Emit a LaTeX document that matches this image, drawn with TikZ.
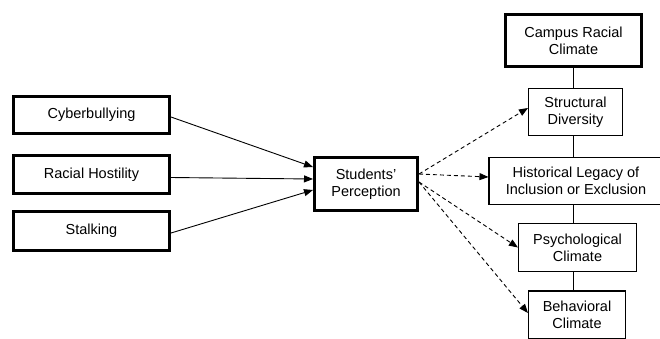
\documentclass[tikz,border=0pt]{standalone}
\usepackage{fontspec}
\setmainfont{Liberation Sans}
\usetikzlibrary{arrows.meta}
\begin{document}
\begin{tikzpicture}[x=1pt,y=-1pt,
  thickbox/.style={draw, line width=3pt, align=center, inner sep=0pt},
  thinbox/.style={draw, line width=1.1pt, align=center, inner sep=0pt},
  link/.style={line width=0.9pt},
  arr/.style={-{Triangle[length=9pt,width=7pt]}, line width=0.9pt},
  darr/.style={arr, dash pattern=on 4pt off 3pt},
  font=\fontsize{14.5}{16.7}\selectfont]
\useasboundingbox (0,0) rectangle (660,338);
\clip (0,0) rectangle (660,338);

\node[thickbox, minimum width=156pt, minimum height=37pt] (cyber) at (91.5,115) {Cyberbullying};
\node[thickbox, minimum width=156pt, minimum height=38pt] (racial) at (91.5,174.5) {Racial Hostility};
\node[thickbox, minimum width=156pt, minimum height=39pt] (stalk) at (91.5,231) {Stalking};
\node[thickbox, minimum width=103pt, minimum height=53pt] (stud) at (366,184) {Students'\\Perception};

\node[thickbox, minimum width=136pt, minimum height=52pt] (campus) at (573.5,40.5) {Campus Racial\\Climate};
\node[thinbox, minimum width=94pt, minimum height=47pt] (struct) at (575.5,112) {Structural\\Diversity};
\node[thinbox, minimum width=174pt, minimum height=47pt] (hist) at (576,181) {Historical Legacy of\\Inclusion or Exclusion};
\node[thinbox, minimum width=118pt, minimum height=48pt] (psych) at (577.5,247.5) {Psychological\\Climate};
\node[thinbox, minimum width=97pt, minimum height=48pt] (behav) at (577,315) {Behavioral\\Climate};

\draw[arr] ([yshift=-2pt]cyber.east) -- ([yshift=17pt]stud.west);
\draw[arr] ([yshift=-3pt]racial.east) -- ([yshift=5pt]stud.west);
\draw[arr] ([yshift=-2pt]stalk.east) -- ([yshift=-6pt]stud.west);

\draw[darr] ([yshift=10pt]stud.east) -- ([yshift=4pt]struct.west);
\draw[darr] ([yshift=10pt]stud.east) -- ([yshift=4pt]hist.west);
\draw[darr] ([yshift=2pt]stud.east) -- (psych.west);
\draw[darr] ([yshift=2pt]stud.east) -- ([yshift=2pt]behav.west);

\draw[link] (campus.south) -- (campus.south |- struct.north);
\draw[link] (campus.south |- struct.south) -- (campus.south |- hist.north);
\draw[link] (campus.south |- hist.south) -- (campus.south |- psych.north);
\draw[link] (campus.south |- psych.south) -- (campus.south |- behav.north);
\end{tikzpicture}
\end{document}
